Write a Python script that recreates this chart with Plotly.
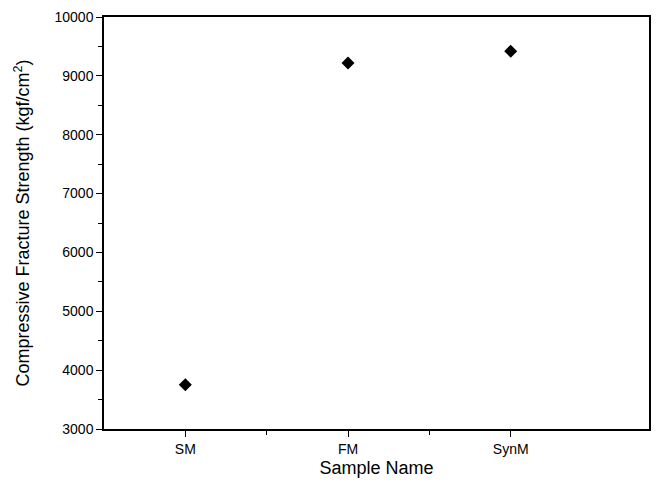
import plotly.graph_objects as go

categories = ["SM", "FM", "SynM"]
positions = [1, 2, 3]
strength = [3750, 9220, 9420]
y_ticks = [3000, 4000, 5000, 6000, 7000, 8000, 9000, 10000]
y_tick_labels = ["3000", "4000", "5000", "6000", "7000", "8000", "9000", "10000"]

fig = go.Figure()
fig.add_trace(go.Scatter(
    x=positions, y=strength, mode="markers",
    marker=dict(symbol="diamond", size=10, color="black"),
    showlegend=False,
))

font = "Liberation Sans, Arial, sans-serif"
fig.update_layout(
    width=659, height=491,
    margin=dict(l=104, r=10, t=17, b=62),
    paper_bgcolor="white", plot_bgcolor="white",
    font=dict(family=font, color="black"),
)
fig.update_xaxes(
    range=[0.5, 3.85], automargin=False,
    tickmode="array", tickvals=positions, ticktext=categories,
    ticks="outside", ticklen=6, tickwidth=1.2, tickcolor="black",
    minor=dict(tickvals=[1.5, 2.5], ticks="outside", ticklen=4, tickcolor="black"),
    showline=True, linecolor="black", linewidth=1.5, mirror=True,
    showgrid=False, zeroline=False,
    tickfont=dict(size=14),
    title=dict(text="Sample Name", font=dict(size=18), standoff=6),
)
fig.update_yaxes(
    range=[3000, 10000], automargin=False,
    tickmode="array", tickvals=y_ticks, ticktext=y_tick_labels,
    ticks="outside", ticklen=6, tickwidth=1.2, tickcolor="black",
    minor=dict(dtick=500, ticks="outside", ticklen=4, tickcolor="black"),
    showline=True, linecolor="black", linewidth=1.5, mirror=True,
    showgrid=False, zeroline=False,
    tickfont=dict(size=14),
    title=dict(text="Compressive Fracture Strength (kgf/cm<sup>2</sup>)", font=dict(size=18), standoff=20),
)

fig.write_html(
    "out.html",
    config={"displayModeBar": False},
    post_script="document.body.style.margin='0';document.body.style.overflow='hidden';",
)
